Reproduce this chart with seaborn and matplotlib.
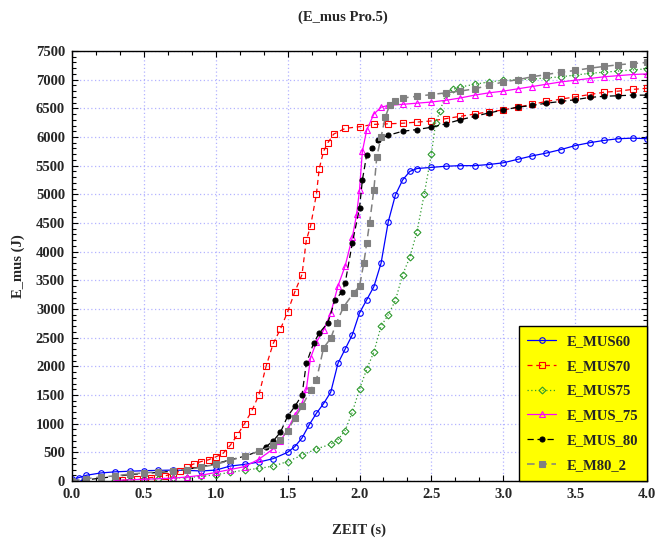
import numpy as np
import pandas as pd
import matplotlib
matplotlib.use("Agg")
import matplotlib.pyplot as plt
from matplotlib.ticker import MultipleLocator
import seaborn as sns

# --- data: time (s) and muscle energy (J) per run ---
t_mus60 = [0.0, 0.05, 0.1, 0.2, 0.3, 0.4, 0.5, 0.6, 0.7, 0.8, 0.9, 1.0, 1.1, 1.2, 1.3, 1.4, 1.5,
           1.55, 1.6, 1.65, 1.7, 1.75, 1.8, 1.85, 1.9, 1.95, 2.0, 2.05, 2.1, 2.15, 2.2, 2.25, 2.3,
           2.35, 2.4, 2.5, 2.6, 2.7, 2.8, 2.9, 3.0, 3.1, 3.2, 3.3, 3.4, 3.5, 3.6, 3.7, 3.8, 3.9, 4.0]
e_mus60 = [30, 60, 100, 140, 160, 170, 180, 185, 190, 185, 175, 190, 260, 290, 330, 390, 500,
           600, 750, 980, 1180, 1350, 1550, 2050, 2300, 2550, 2930, 3160, 3390, 3800, 4520, 4990, 5250,
           5400, 5450, 5470, 5490, 5500, 5500, 5520, 5550, 5610, 5670, 5720, 5780, 5850, 5900, 5940, 5970, 5980, 5970]

t_mus70 = [0.35, 0.45, 0.55, 0.65, 0.7, 0.75, 0.8, 0.85, 0.9, 0.95, 1.0, 1.05, 1.1, 1.15, 1.2, 1.25,
           1.3, 1.35, 1.4, 1.45, 1.5, 1.55, 1.6, 1.63, 1.66, 1.7, 1.72, 1.75, 1.78, 1.82, 1.9, 2.0,
           2.1, 2.2, 2.3, 2.4, 2.5, 2.6, 2.7, 2.8, 2.9, 3.0, 3.1, 3.2, 3.3, 3.4, 3.5, 3.6, 3.7, 3.8, 3.9, 4.0]
e_mus70 = [10, 30, 60, 90, 130, 170, 250, 300, 340, 370, 420, 480, 620, 800, 1000, 1220,
           1500, 2000, 2400, 2650, 2950, 3300, 3600, 4200, 4450, 5000, 5450, 5750, 5900, 6050, 6150, 6180,
           6220, 6230, 6240, 6260, 6280, 6320, 6360, 6400, 6440, 6470, 6520, 6570, 6620, 6660, 6700, 6740,
           6780, 6800, 6830, 6850]

t_mus75 = [0.3, 0.4, 0.5, 0.6, 0.7, 0.8, 0.9, 1.0, 1.1, 1.2, 1.3, 1.4, 1.5, 1.6, 1.7, 1.8, 1.85, 1.9,
           1.95, 2.0, 2.05, 2.1, 2.15, 2.2, 2.25, 2.3, 2.35, 2.4, 2.45, 2.5, 2.53, 2.56, 2.6, 2.65, 2.7,
           2.8, 2.9, 3.0, 3.1, 3.2, 3.3, 3.4, 3.5, 3.6, 3.7, 3.8, 3.9, 4.0]
e_mus75 = [10, 20, 30, 40, 50, 60, 80, 110, 150, 190, 220, 260, 340, 450, 560, 640, 720, 880,
           1200, 1600, 1950, 2250, 2700, 2900, 3150, 3600, 3900, 4350, 5000, 5700, 6250, 6450, 6750, 6830, 6870,
           6920, 6960, 6990, 7000, 7010, 7030, 7050, 7080, 7110, 7130, 7150, 7170, 7190]

t_mus_75 = [0.3, 0.5, 0.7, 0.8, 0.9, 1.0, 1.1, 1.2, 1.3, 1.4, 1.45, 1.5, 1.55, 1.6, 1.63, 1.66, 1.7,
            1.75, 1.8, 1.85, 1.9, 1.95, 1.98, 2.0, 2.02, 2.05, 2.1, 2.15, 2.2, 2.3, 2.4, 2.5, 2.6, 2.7,
            2.8, 2.9, 3.0, 3.1, 3.2, 3.3, 3.4, 3.5, 3.6, 3.7, 3.8, 3.9, 4.0]
e_mus_75 = [10, 30, 50, 70, 100, 150, 200, 250, 380, 560, 700, 900, 1150, 1350, 1600, 2150, 2420,
            2630, 2930, 3400, 3750, 4250, 4650, 5080, 5750, 6120, 6400, 6520, 6550, 6570, 6590, 6610, 6640, 6680,
            6730, 6770, 6800, 6840, 6880, 6920, 6960, 6990, 7020, 7050, 7070, 7090, 7100]

t_mus_80 = [0.0, 0.1, 0.2, 0.3, 0.4, 0.5, 0.6, 0.7, 0.8, 0.9, 1.0, 1.1, 1.2, 1.3, 1.35, 1.4, 1.45,
            1.5, 1.55, 1.6, 1.63, 1.68, 1.72, 1.78, 1.83, 1.88, 1.9, 1.95, 2.0, 2.02, 2.05, 2.09, 2.13,
            2.2, 2.3, 2.4, 2.5, 2.6, 2.7, 2.8, 2.9, 3.0, 3.1, 3.2, 3.3, 3.4, 3.5, 3.6, 3.7, 3.8, 3.9, 4.0]
e_mus_80 = [0, 20, 50, 80, 110, 130, 150, 170, 200, 250, 300, 370, 430, 520, 600, 700, 850,
            1130, 1300, 1500, 2050, 2400, 2580, 2760, 3160, 3300, 3450, 4150, 4760, 5250, 5690, 5800, 5950,
            6030, 6100, 6130, 6170, 6230, 6300, 6360, 6420, 6470, 6520, 6550, 6590, 6620, 6650, 6690, 6710,
            6720, 6730, 6730]

t_m80_2 = [0.0, 0.1, 0.2, 0.3, 0.4, 0.5, 0.6, 0.7, 0.8, 0.9, 1.0, 1.1, 1.2, 1.3, 1.4, 1.45, 1.5, 1.55,
           1.6, 1.66, 1.7, 1.75, 1.8, 1.84, 1.89, 1.96, 2.0, 2.03, 2.05, 2.07, 2.1, 2.12, 2.15, 2.18, 2.21,
           2.25, 2.3, 2.4, 2.5, 2.6, 2.7, 2.8, 2.9, 3.0, 3.1, 3.2, 3.3, 3.4, 3.5, 3.6, 3.7, 3.8, 3.9, 4.0]
e_m80_2 = [0, 40, 70, 90, 120, 140, 160, 180, 200, 240, 290, 360, 430, 520, 620, 720, 880, 1100,
           1300, 1590, 1760, 2320, 2490, 2760, 3040, 3280, 3400, 3800, 4150, 4500, 5080, 5650, 6000, 6350, 6560,
           6630, 6680, 6710, 6740, 6770, 6800, 6840, 6900, 6960, 7000, 7050, 7090, 7130, 7160, 7200, 7230,
           7260, 7280, 7300]

series_names = ["E_MUS60", "E_MUS70", "E_MUS75", "E_MUS_75", "E_MUS_80", "E_M80_2"]
series_t = [t_mus60, t_mus70, t_mus75, t_mus_75, t_mus_80, t_m80_2]
series_e = [e_mus60, e_mus70, e_mus75, e_mus_75, e_mus_80, e_m80_2]

x_ticks = [0.0, 0.5, 1.0, 1.5, 2.0, 2.5, 3.0, 3.5, 4.0]
y_ticks = list(range(0, 7501, 500))

# --- styles ---
styles = {
    "E_MUS60":  dict(color="#0000ff", linestyle="-", marker="o", mfc="none", ms=4, lw=0.9, mew=0.8),
    "E_MUS70":  dict(color="#ff0000", linestyle=(0, (4, 3)), marker="s", mfc="none", ms=4.2, lw=0.9, mew=0.8),
    "E_MUS75":  dict(color="#2e9a2e", linestyle=(0, (1, 2)), marker="D", mfc="none", ms=3.5, lw=0.9, mew=0.8),
    "E_MUS_75": dict(color="#ff00ff", linestyle="-", marker="^", mfc="none", ms=4.2, lw=0.9, mew=0.8),
    "E_MUS_80": dict(color="#000000", linestyle=(0, (5, 3)), marker="o", mfc="#000000", ms=3.6, lw=0.9, mew=0.8),
    "E_M80_2":  dict(color="#808080", linestyle=(0, (5, 3)), marker="s", mfc="#808080", ms=4.5, lw=1.1, mew=0.8),
}

sns.set_theme(style="white")
plt.rcParams["font.family"] = ["Liberation Serif", "DejaVu Serif"]
plt.rcParams["font.weight"] = "bold"

fig = plt.figure(figsize=(6.56, 5.39), dpi=100)
ax = fig.add_axes([72 / 656, 1 - 481 / 539, 575 / 656, 430 / 539])

for name, ts, es in zip(series_names, series_t, series_e):
    df = pd.DataFrame({"t": ts, "E": es})
    st = styles[name]
    sns.lineplot(data=df, x="t", y="E", ax=ax, estimator=None, sort=False,
                 color=st["color"], linestyle=st["linestyle"], marker=st["marker"],
                 markerfacecolor=st["mfc"], markeredgecolor=st["color"],
                 markersize=st["ms"], markeredgewidth=st["mew"], linewidth=st["lw"],
                 label=name, legend=False)

ax.set_xlim(0, 4.0)
ax.set_ylim(0, 7500)
ax.set_xticks(x_ticks)
ax.set_yticks(y_ticks)
ax.set_xticklabels([f"{v:.1f}" for v in x_ticks])
ax.set_yticklabels([str(v) for v in y_ticks])
ax.xaxis.set_minor_locator(MultipleLocator(0.5 / 3))
ax.yaxis.set_minor_locator(MultipleLocator(100))

ax.grid(True, which="major", color="#b4b4ff", linestyle=(0, (1, 2)), linewidth=0.9)
ax.tick_params(which="both", direction="in", top=True, right=True, bottom=True, left=True,
               color="black", width=0.8)
ax.tick_params(which="major", length=4, labelsize=10.5, pad=5)
ax.tick_params(which="minor", length=3)
for lab in ax.get_xticklabels() + ax.get_yticklabels():
    lab.set_fontweight("bold")
for sp in ax.spines.values():
    sp.set_color("black")
    sp.set_linewidth(1.0)

ax.set_xlabel("ZEIT (s)", fontsize=10.5, fontweight="bold", labelpad=16)
ax.set_ylabel("E_mus (J)", fontsize=10.5, fontweight="bold", labelpad=8)
fig.text(343 / 656, 1 - 17 / 539, "(E_mus Pro.5)", ha="center", va="center",
         fontsize=10.5, fontweight="bold")

leg = ax.legend(loc="lower right", bbox_to_anchor=(1.0, 0.0), frameon=True, fancybox=False,
                facecolor="#ffff00", edgecolor="black", framealpha=1.0,
                prop={"family": "Liberation Serif", "weight": "bold", "size": 10.5},
                handlelength=2.0, labelspacing=0.8, borderpad=0.6, handletextpad=0.7,
                borderaxespad=0.0)
leg.get_frame().set_linewidth(1.0)

fig.savefig("out.png", dpi=100)
